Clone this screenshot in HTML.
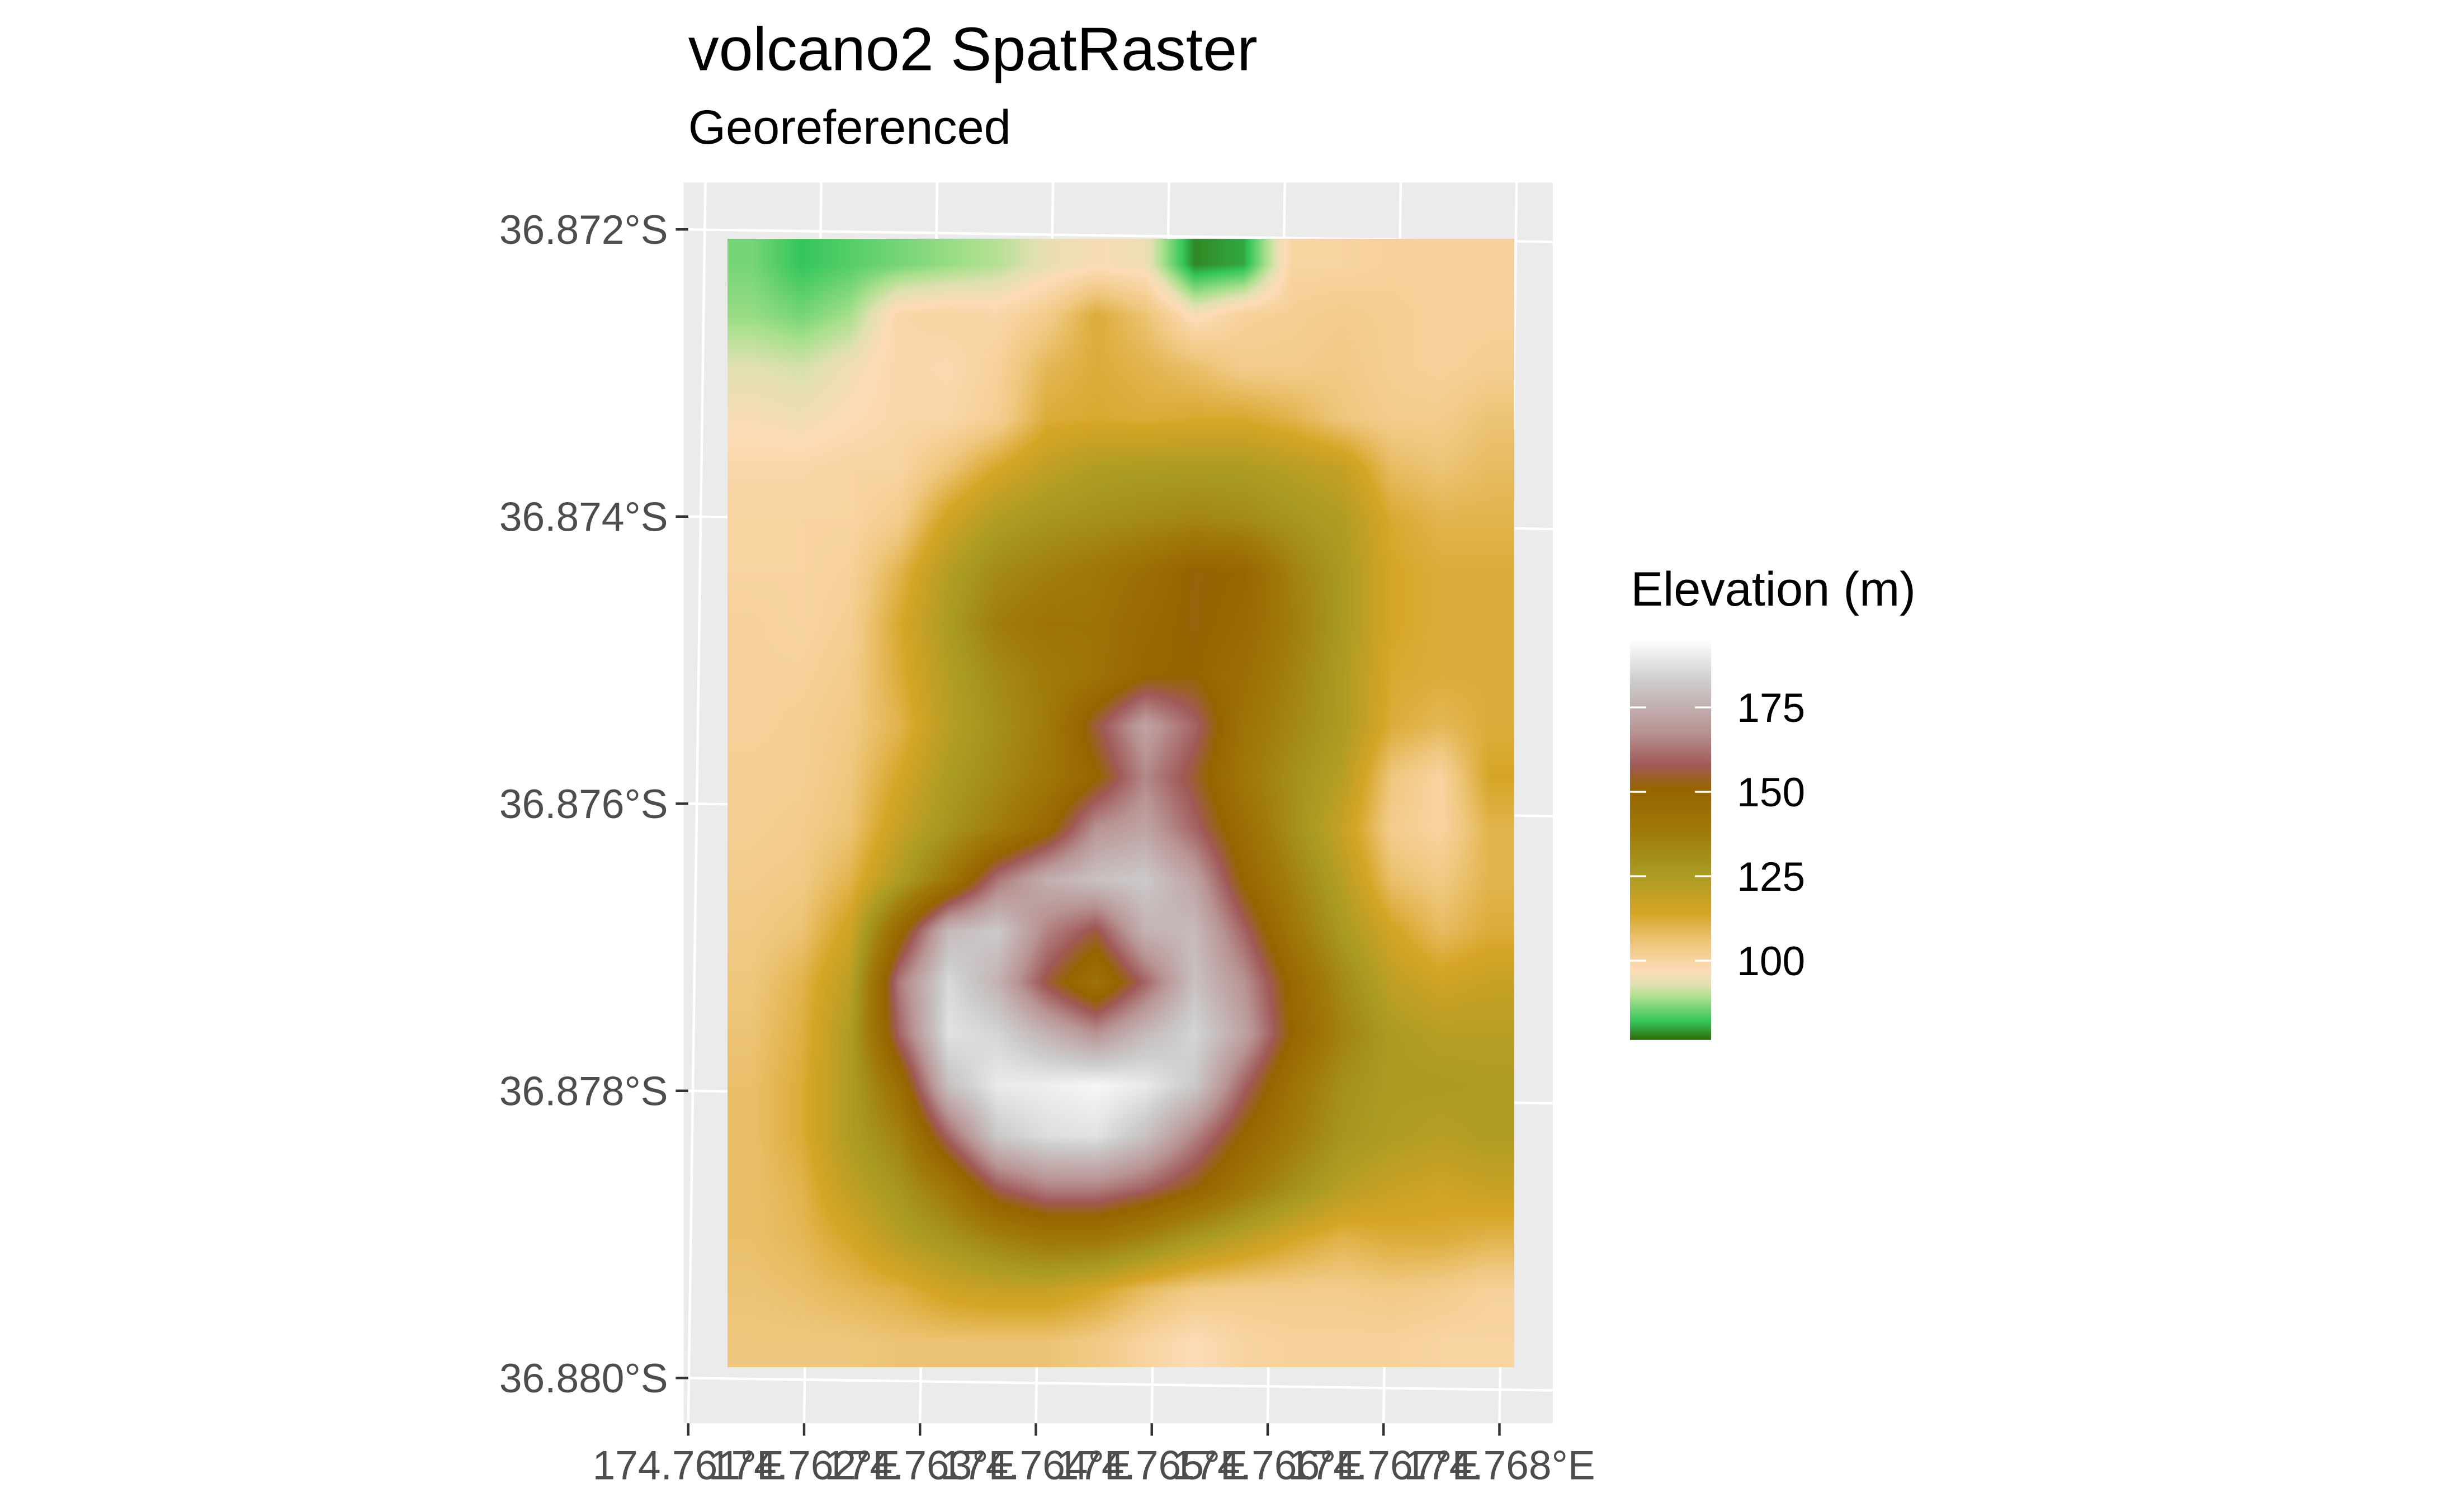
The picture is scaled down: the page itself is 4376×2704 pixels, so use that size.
<!DOCTYPE html>
<html><head><meta charset="utf-8">
<style>
html,body{margin:0;padding:0;background:#fff;}
#wrap{position:relative;width:4376px;height:2704px;overflow:hidden;}
svg,canvas{position:absolute;left:0;top:0;}
text{font-family:"Liberation Sans",Arial,sans-serif;}
</style></head>
<body>
<div id="wrap">
<svg id="bg" width="4376" height="2704" viewBox="0 0 1568 968.9"></svg>
<canvas id="raster"></canvas>
<svg id="fg" width="4376" height="2704" viewBox="0 0 1568 968.9">
<text x="441" y="45" font-size="39.3" fill="#000">volcano2 SpatRaster</text>
<text x="441" y="92" font-size="31" fill="#000">Georeferenced</text>
<text x="1045" y="388" font-size="31" fill="#000">Elevation (m)</text>
</svg>
</div>
<script>
// ---- data ----
const xTickLabels = ["174.761°E","174.762°E","174.763°E","174.764°E","174.765°E","174.766°E","174.767°E","174.768°E"];
const yTickLabels = ["36.872°S","36.874°S","36.876°S","36.878°S","36.880°S"];
const legendValues = [100,125,150,175];
const elevRows = [
[86,82,84,86,88,90,94,96,95,78,80,100,100,101,101,101],
[88,86,89,99,100,99,103,112,106,96,101,102,103,102,101,101],
[93,92,95,99,98,101,109,112,110,107,103,103,104,102,101,102],
[96,95,97,99,99,102,112,113,112,113,113,110,105,103,103,106],
[99,99,100,100,106,114,120,124,125,125,125,122,119,108,106,108],
[100,100,100,103,116,124,128,130,132,134,132,128,124,113,110,110],
[100,100,101,110,123,132,136,140,145,152,150,135,126,114,112,112],
[101,100,102,113,125,137,142,142,148,152,148,137,126,114,112,112],
[101,101,103,112,123,132,138,142,150,151,145,135,125,113,112,112],
[101,102,104,110,122,130,138,156,172,160,142,133,125,112,109,112],
[102,102,105,114,125,132,140,150,166,155,140,130,122,105,100,114],
[102,103,106,118,128,137,148,168,172,160,145,130,118,103,100,110],
[103,104,110,124,140,163,175,180,182,172,150,135,122,107,104,110],
[104,106,116,148,178,182,165,156,176,178,160,140,126,115,108,112],
[105,110,121,164,186,176,156,142,160,180,168,148,132,120,116,118],
[106,111,124,160,188,185,176,168,178,185,172,150,135,125,122,122],
[107,112,124,145,180,190,191,193,190,182,160,142,130,125,125,124],
[107,112,124,135,160,182,187,188,180,165,150,138,128,124,122,124],
[107,110,120,128,140,158,165,165,160,152,140,130,122,118,116,118],
[107,109,114,122,128,135,140,140,134,126,120,114,110,112,112,110],
[106,107,109,111,116,118,118,114,108,104,103,103,103,104,103,101],
[105,105,105,106,106,106,106,104,100,97,100,101,101,101,100,100]
];
const colorStopValues = [76,82,89,93,97,105,114,126,138,151,158,168,183,195];
const colorStopColors = ["#2F6A0A","#34C65B","#A8E08C","#E2E0B2","#FDDBB6","#EFC77E","#D6A526","#A89A22","#A07A0A","#976400","#A05A58","#B99494","#CDCDCD","#FFFFFF"];

const NS="http://www.w3.org/2000/svg";
const S=4376/1568;
function mk(parent,tag,attrs){const e=document.createElementNS(NS,tag);for(const k in attrs)e.setAttribute(k,attrs[k]);parent.appendChild(e);return e;}
function hex(c){return [parseInt(c.substr(1,2),16),parseInt(c.substr(3,2),16),parseInt(c.substr(5,2),16)];}
const stopRGB=colorStopColors.map(hex);
function colorOf(v){
  const n=colorStopValues.length;
  if(v<=colorStopValues[0])return stopRGB[0];
  if(v>=colorStopValues[n-1])return stopRGB[n-1];
  for(let i=0;i<n-1;i++){
    if(v<=colorStopValues[i+1]){
      const t=(v-colorStopValues[i])/(colorStopValues[i+1]-colorStopValues[i]);
      const a=stopRGB[i],b=stopRGB[i+1];
      return [a[0]+(b[0]-a[0])*t,a[1]+(b[1]-a[1])*t,a[2]+(b[2]-a[2])*t];
    }
  }
}
const xTickPos=i=>441+i*74.26;
const yTickPos=i=>147+i*184;
const bg=document.getElementById('bg');
const fg=document.getElementById('fg');
const panel=mk(bg,'rect',{x:438,y:117,width:557,height:795,fill:'#EBEBEB'});


xTickLabels.forEach((l,i)=>{
  const x=xTickPos(i);
  const g=mk(bg,'line',{x1:x,y1:912,x2:x+11,y2:117,stroke:'#fff','stroke-width':1.6});
  
  
  const t=mk(fg,'line',{x1:x,y1:912,x2:x,y2:920,stroke:'#333','stroke-width':1.6});
  
  
  const tx=mk(fg,'text',{x:x,y:948,'font-size':26.2,fill:'#4D4D4D','text-anchor':'middle'});
  tx.textContent=l;
  
  
});
yTickLabels.forEach((l,i)=>{
  const y=yTickPos(i);
  const g=mk(bg,'line',{x1:438,y1:y,x2:995,y2:y+8,stroke:'#fff','stroke-width':1.6});
  
  
  const t=mk(fg,'line',{x1:433,y1:y,x2:441,y2:y,stroke:'#333','stroke-width':1.6});
  
  
  const tx=mk(fg,'text',{x:428,y:y+9.3,'font-size':26.2,fill:'#4D4D4D','text-anchor':'end'});
  tx.textContent=l;
  
  
});
const RX=466,RY=153,RW=504,RH=723;
const cv=document.getElementById('raster');
const cw=Math.round(RW*S),ch=Math.round(RH*S);
cv.width=cw;cv.height=ch;
cv.style.left=(RX*S)+'px';cv.style.top=(RY*S)+'px';
cv.style.width=cw+'px';cv.style.height=ch+'px';
const ctx=cv.getContext('2d');
const img=ctx.createImageData(cw,ch);
const nr=elevRows.length,nc=elevRows[0].length;
for(let py=0;py<ch;py++){
  let gy=(py+0.5)/ch*nr-0.5; gy=Math.max(0,Math.min(nr-1,gy));
  const y0=Math.floor(gy),y1=Math.min(nr-1,y0+1),fy=gy-y0;
  for(let px=0;px<cw;px++){
    let gx=(px+0.5)/cw*nc-0.5; gx=Math.max(0,Math.min(nc-1,gx));
    const x0=Math.floor(gx),x1=Math.min(nc-1,x0+1),fx=gx-x0;
    const v=(elevRows[y0][x0]*(1-fx)+elevRows[y0][x1]*fx)*(1-fy)+(elevRows[y1][x0]*(1-fx)+elevRows[y1][x1]*fx)*fy;
    const c=colorOf(v);const o=(py*cw+px)*4;
    img.data[o]=c[0];img.data[o+1]=c[1];img.data[o+2]=c[2];img.data[o+3]=255;
  }
}
ctx.putImageData(img,0,0);
const LV0=76.5,LV1=195.2,LY0=666.4,LY1=409.6,LX=1044.5,LW=52;
const legY=v=>LY0-(v-LV0)/(LV1-LV0)*(LY0-LY1);
const defs=mk(fg,'defs',{});
const grad=mk(defs,'linearGradient',{id:'lg',x1:0,y1:1,x2:0,y2:0});
colorStopValues.forEach((v,i)=>{
  const off=Math.max(0,Math.min(1,(v-LV0)/(LV1-LV0)));
  mk(grad,'stop',{offset:off,'stop-color':colorStopColors[i]});
});
const bar=mk(fg,'rect',{x:LX,y:LY1,width:LW,height:LY0-LY1,fill:'url(#lg)'});


legendValues.forEach(v=>{
  const y=legY(v);
  const a=mk(fg,'line',{x1:LX,y1:y,x2:LX+10.4,y2:y,stroke:'#fff','stroke-width':1.2});
  
  
  const b=mk(fg,'line',{x1:LX+LW-10.4,y1:y,x2:LX+LW,y2:y,stroke:'#fff','stroke-width':1.2});
  
  
  const t=mk(fg,'text',{x:1113,y:y+9.3,'font-size':26.2,fill:'#000'});
  t.textContent=v;
  
  
});
</script>
</body></html>
